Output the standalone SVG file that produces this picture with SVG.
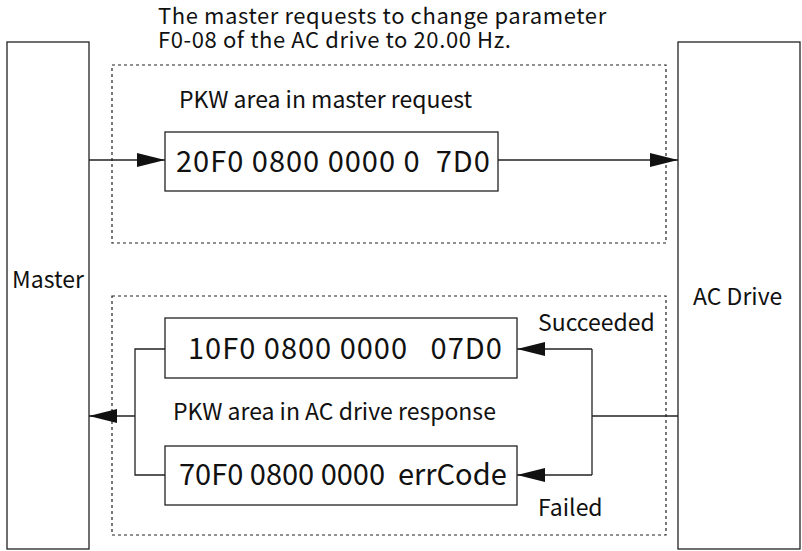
<svg xmlns="http://www.w3.org/2000/svg" width="802" height="551" viewBox="0 0 802 551">
<style>
.box{fill:#fff;stroke:#222;stroke-width:1.3}
.dash{fill:none;stroke:#222;stroke-width:1.2;stroke-dasharray:3,3}
.ln{fill:none;stroke:#222;stroke-width:1.3}
text{font-family:"Noto Sans CJK SC","Noto Sans",sans-serif;fill:#111}
.t18{font-size:23px}
.ttl{font-size:22px;letter-spacing:0.6px}
.t24{font-size:29px}
.d{letter-spacing:1px}
</style>
<defs>
<marker id="ah" markerWidth="30" markerHeight="14" refX="28" refY="7" orient="auto" markerUnits="userSpaceOnUse">
<path d="M0,0 L28,7 L0,14 Z" fill="#111"/>
</marker>
</defs>
<rect width="802" height="551" fill="#fff"/>
<g id="title">
<text class="ttl" x="158" y="24">The master requests to change parameter</text>
<text class="ttl" x="158" y="48">F0-08 of the AC drive to 20.00 Hz.</text>
</g>
<rect class="dash" x="112" y="65" width="554" height="178"/>
<rect class="dash" x="112" y="296" width="554" height="239"/>
<g id="master"><rect class="box" x="7" y="42" width="82" height="507"/><text class="t18" x="12" y="288">Master</text></g>
<g id="acdrive"><rect class="box" x="678" y="42" width="122" height="507"/><text class="t18" x="693" y="305">AC Drive</text></g>
<text class="t18" x="179" y="108">PKW area in master request</text>
<g id="req"><rect class="box" x="165" y="132" width="333" height="59"/><text class="t24 d" x="176" y="172" xml:space="preserve">20F0 0800 0000 0  7D0</text></g>
<g id="resp1"><rect class="box" x="165" y="318" width="352" height="60"/><text class="t24 d" x="188" y="359" xml:space="preserve">10F0 0800 0000   07D0</text></g>
<g id="resp2"><rect class="box" x="165" y="446" width="352" height="59"/><text class="t24" x="179" y="485" xml:space="preserve">70F0 0800 0000  errCode</text></g>
<text class="t18" x="173" y="420">PKW area in AC drive response</text>
<text class="t18" x="538" y="331">Succeeded</text>
<text class="t18" x="538" y="516">Failed</text>
<g id="connectors">
<line class="ln" x1="89" y1="160" x2="165" y2="160" marker-end="url(#ah)"/>
<line class="ln" x1="498" y1="160" x2="678" y2="160" marker-end="url(#ah)"/>
<line class="ln" x1="678" y1="416" x2="592" y2="416"/>
<path class="ln" d="M592,349 V475"/>
<line class="ln" x1="592" y1="349" x2="517" y2="349" marker-end="url(#ah)"/>
<line class="ln" x1="592" y1="475" x2="517" y2="475" marker-end="url(#ah)"/>
<path class="ln" d="M165,349 H135 V475 H165"/>
<line class="ln" x1="135" y1="416" x2="89" y2="416" marker-end="url(#ah)"/>
</g>
</svg>
